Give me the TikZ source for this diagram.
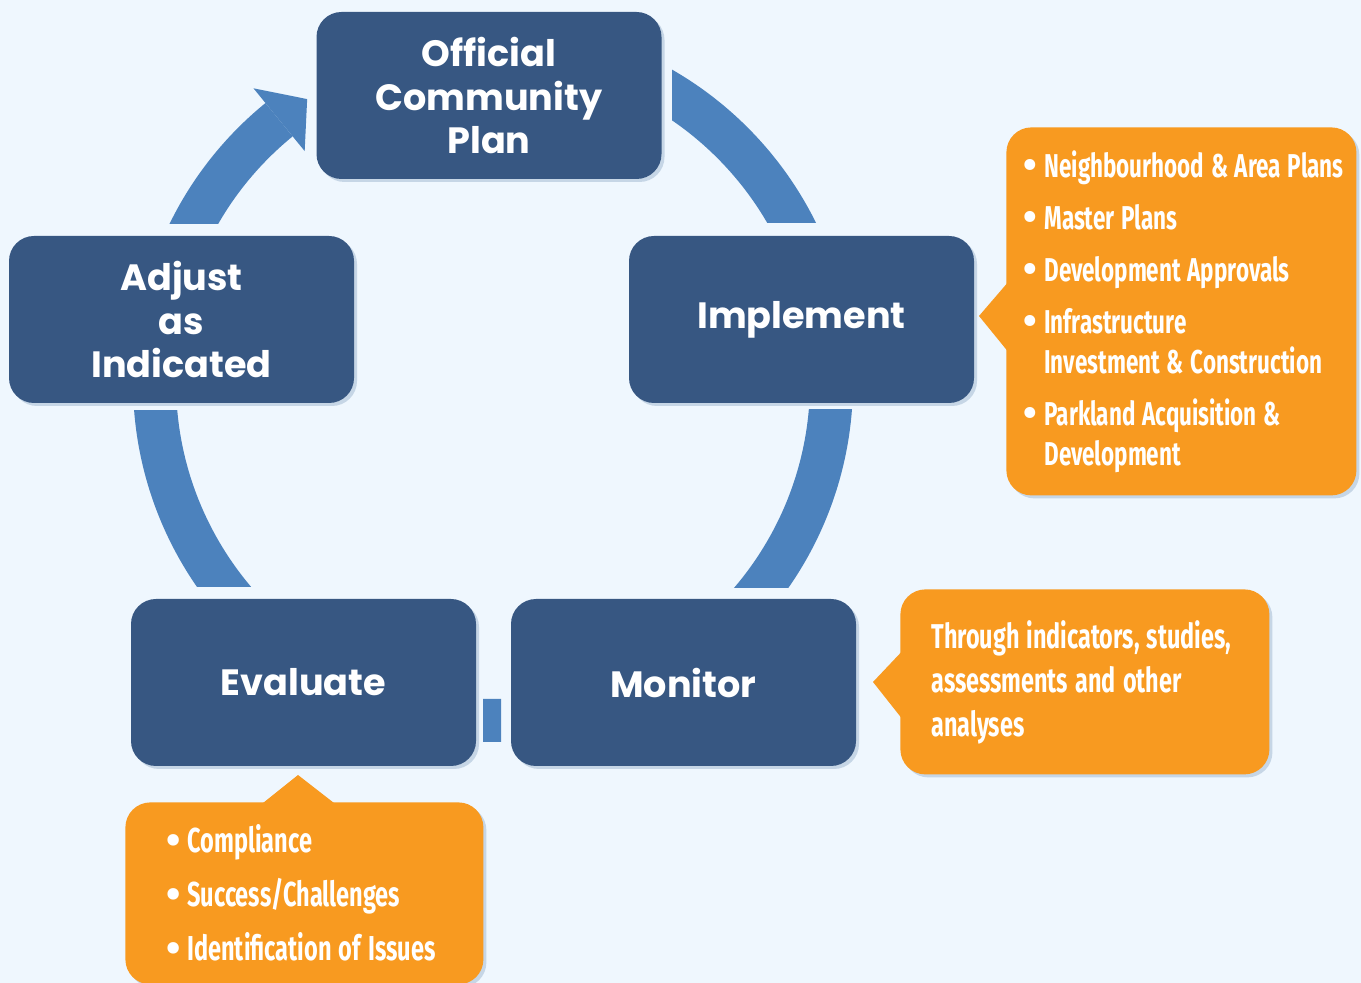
\documentclass[tikz,border=0pt]{standalone}
\usepackage{fontspec}
\usepackage{graphicx}
\usetikzlibrary{calc, shadows, positioning}
\newfontfamily\stagefont{Poppins}
\newfontfamily\notefont[FakeStretch=0.68]{Fira Sans}
\definecolor{bgblue}{HTML}{EFF7FE}
\definecolor{stageblue}{HTML}{375782}
\definecolor{ringblue}{HTML}{4C82BD}
\definecolor{noteorange}{HTML}{F89A20}
\definecolor{shadowgrey}{HTML}{C6D6E6}
\newcommand{\notespace}[1]{\spaceskip=#1\relax}
\newcommand{\notedot}{\raisebox{-0.6pt}{\scalebox{1.75}[1.2]{\textbullet}}}
\newcommand{\noteitem}[1]{\mbox{\makebox[9.5pt][l]{\hspace*{-1pt}\notedot}#1}}
\newcommand{\noteindent}[1]{\mbox{\hspace*{9.5pt}#1}}

\begin{document}
\begin{tikzpicture}[x=0.5pt, y=-0.5pt,
  stage/.style={rectangle, rounded corners=12.5pt, fill=stageblue, text=white,
    font=\stagefont\bfseries\fontsize{18.3}{21.75}\selectfont, align=center,
    minimum width=172.5pt, minimum height=83.5pt, inner sep=0pt,
    drop shadow={shadow xshift=1.5pt, shadow yshift=-1.5pt, opacity=1, fill=shadowgrey}},
  note/.style={rectangle, rounded corners=12.5pt, fill=noteorange, text=white,
    font=\notefont\bfseries\fontsize{16.5}{20}\selectfont, align=left,
    anchor=north west, inner ysep=0pt,
    drop shadow={shadow xshift=1.5pt, shadow yshift=-1.5pt, opacity=1, fill=shadowgrey}},
  ring/.style={fill=ringblue}
]

  % page and background
  \path[use as bounding box, fill=bgblue] (0,0) rectangle (1361,983);

  % CYCLE RING
  \coordinate (hub) at (493,382);
  \begin{scope}
    \clip (672,0) rectangle (900,223);
    \fill[ring, even odd rule] (hub) circle[radius=360] (hub) circle[radius=317];
  \end{scope}
  \begin{scope}
    \clip (700,410) rectangle (900,588);
    \fill[ring, even odd rule] (hub) circle[radius=360] (hub) circle[radius=317];
  \end{scope}
  \begin{scope}
    \clip (483,690) rectangle (501,750);
    \fill[ring, even odd rule] (hub) circle[radius=360] (hub) circle[radius=317];
  \end{scope}
  \begin{scope}
    \clip (100,411) rectangle (300,587);
    \fill[ring, even odd rule] (hub) circle[radius=360] (hub) circle[radius=317];
  \end{scope}
  \begin{scope}
    \clip (0,0) rectangle (493,224);
    \fill[ring] ($(hub)+(-129.2:360)$) arc[start angle=-129.2, end angle=-215, radius=360]
      -- ($(hub)+(-215:317)$) arc[start angle=-215, end angle=-129.2, radius=317] -- cycle;
  \end{scope}
  \fill[ring] ($(hub)+(-129.2:379)$) -- ($(hub)+(-123.3:338.5)$) -- ($(hub)+(-129.2:298)$) -- cycle;

  % STAGES
  \node (plan) [stage] at (489,95.5) {Official\\Community\\Plan};
  \node (implement) [stage] at (801.5,319.5) {Implement};
  \node (monitor) [stage] at (683.5,682.5) {Monitor};
  \node (evaluate) [stage] at (303.5,682.5) {Evaluate};
  \node (adjust) [stage] at (181.5,319.5) {Adjust\\as\\Indicated};

  % NOTES
  \node (impl_note) [note, minimum width=175pt, minimum height=184pt, inner xsep=9.5pt,
    text width=156pt] at (1006,127) {\notespace{3.4pt}%
    \noteitem{Neighbourhood \& Area Plans}\\[6pt]
    \noteitem{Master Plans}\\[6pt]
    \noteitem{Development Approvals}\\[6pt]
    \noteitem{Infrastructure}\\
    \noteindent{Investment \& Construction}\\[6pt]
    \noteitem{Parkland Acquisition \&}\\
    \noteindent{Development}};
  \fill[noteorange] ($(impl_note.west)+(1,-28)$) -- (979,316) -- ($(impl_note.west)+(1,39)$) -- cycle;

  \node (mon_note) [note, minimum width=184.5pt, minimum height=92.5pt, inner xsep=15.5pt,
    text width=153.5pt, font=\notefont\bfseries\fontsize{17.2}{22}\selectfont] at (900,589) {\notespace{3.6pt}%
    \mbox{Through indicators, studies,}\\
    \mbox{assessments and other}\\
    \mbox{analyses}};
  \fill[noteorange] ($(mon_note.west)+(1,-29.5)$) -- (873,682) -- ($(mon_note.west)+(1,35.5)$) -- cycle;

  \node (eval_note) [note, minimum width=179pt, minimum height=91pt, inner xsep=21.5pt,
    text width=136pt, font=\notefont\bfseries\fontsize{17.3}{20}\selectfont] at (125,802) {\notespace{3.6pt}%
    \noteitem{Compliance}\\[7pt]
    \noteitem{Success/Challenges}\\[7pt]
    \noteitem{Identification of Issues}};
  \fill[noteorange] ($(eval_note.north west)+(138,1)$) -- (298,775) -- ($(eval_note.north west)+(209,1)$) -- cycle;

\end{tikzpicture}
\end{document}
